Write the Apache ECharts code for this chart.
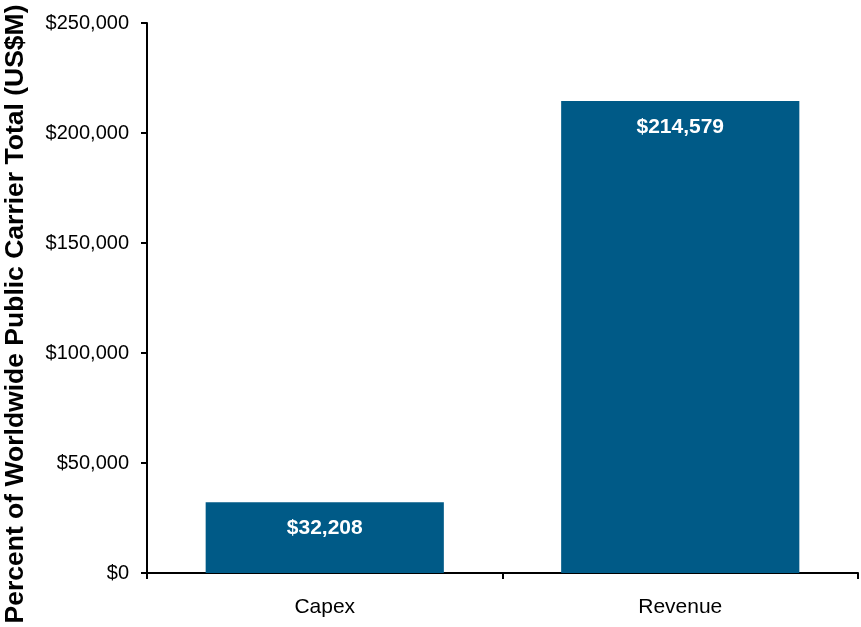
<!DOCTYPE html>
<html>
<head>
<meta charset="utf-8">
<script src="https://cdn.jsdelivr.net/npm/echarts@6/dist/echarts.min.js"></script>
<style>html,body{margin:0;padding:0;background:#fff}#c{width:861px;height:627px}</style>
</head>
<body>
<div id="c"></div>
<script>
const categories = ['Capex', 'Revenue'];
const values = [32208, 214579];
const yTicks = [0, 50000, 100000, 150000, 200000, 250000];
const yTitle = 'Percent of Worldwide Public Carrier Total (US$M)';

function money(v) { return '$' + v.toLocaleString('en-US'); }

const chart = echarts.init(document.getElementById('c'));
chart.setOption({
  animation: false,
  grid: { left: 147, right: 3, top: 23, bottom: 54, containLabel: false, outerBoundsMode: 'none' },
  graphic: [{
    type: 'text',
    x: 16,
    y: 314,
    rotation: Math.PI / 2,
    style: {
      text: yTitle,
      align: 'center',
      verticalAlign: 'middle',
      fill: '#000',
      font: 'bold 26.5px "Liberation Sans", Arial'
    }
  }],
  xAxis: {
    type: 'category',
    data: categories,
    axisLine: { lineStyle: { color: '#000', width: 2 } },
    axisTick: { show: true, alignWithLabel: false, length: 6, lineStyle: { color: '#000', width: 2 } },
    axisLabel: { color: '#000', fontSize: 21, fontFamily: 'Liberation Sans, Arial', margin: 24 }
  },
  yAxis: {
    type: 'value',
    min: yTicks[0],
    max: yTicks[yTicks.length - 1],
    interval: yTicks[1] - yTicks[0],
    axisLine: { show: true, lineStyle: { color: '#000', width: 2 } },
    axisTick: { show: true, length: 6, lineStyle: { color: '#000', width: 2 } },
    splitLine: { show: false },
    axisLabel: { color: '#000', fontSize: 20, fontFamily: 'Liberation Sans, Arial', margin: 18, formatter: money }
  },
  series: [{
    type: 'bar',
    data: values,
    barWidth: '67%',
    itemStyle: { color: '#005A87' },
    label: {
      show: true,
      position: 'insideTop',
      distance: 16,
      color: '#fff',
      fontSize: 21,
      fontWeight: 'bold',
      fontFamily: 'Liberation Sans, Arial',
      formatter: p => money(p.value)
    }
  }]
});
</script>
</body>
</html>
